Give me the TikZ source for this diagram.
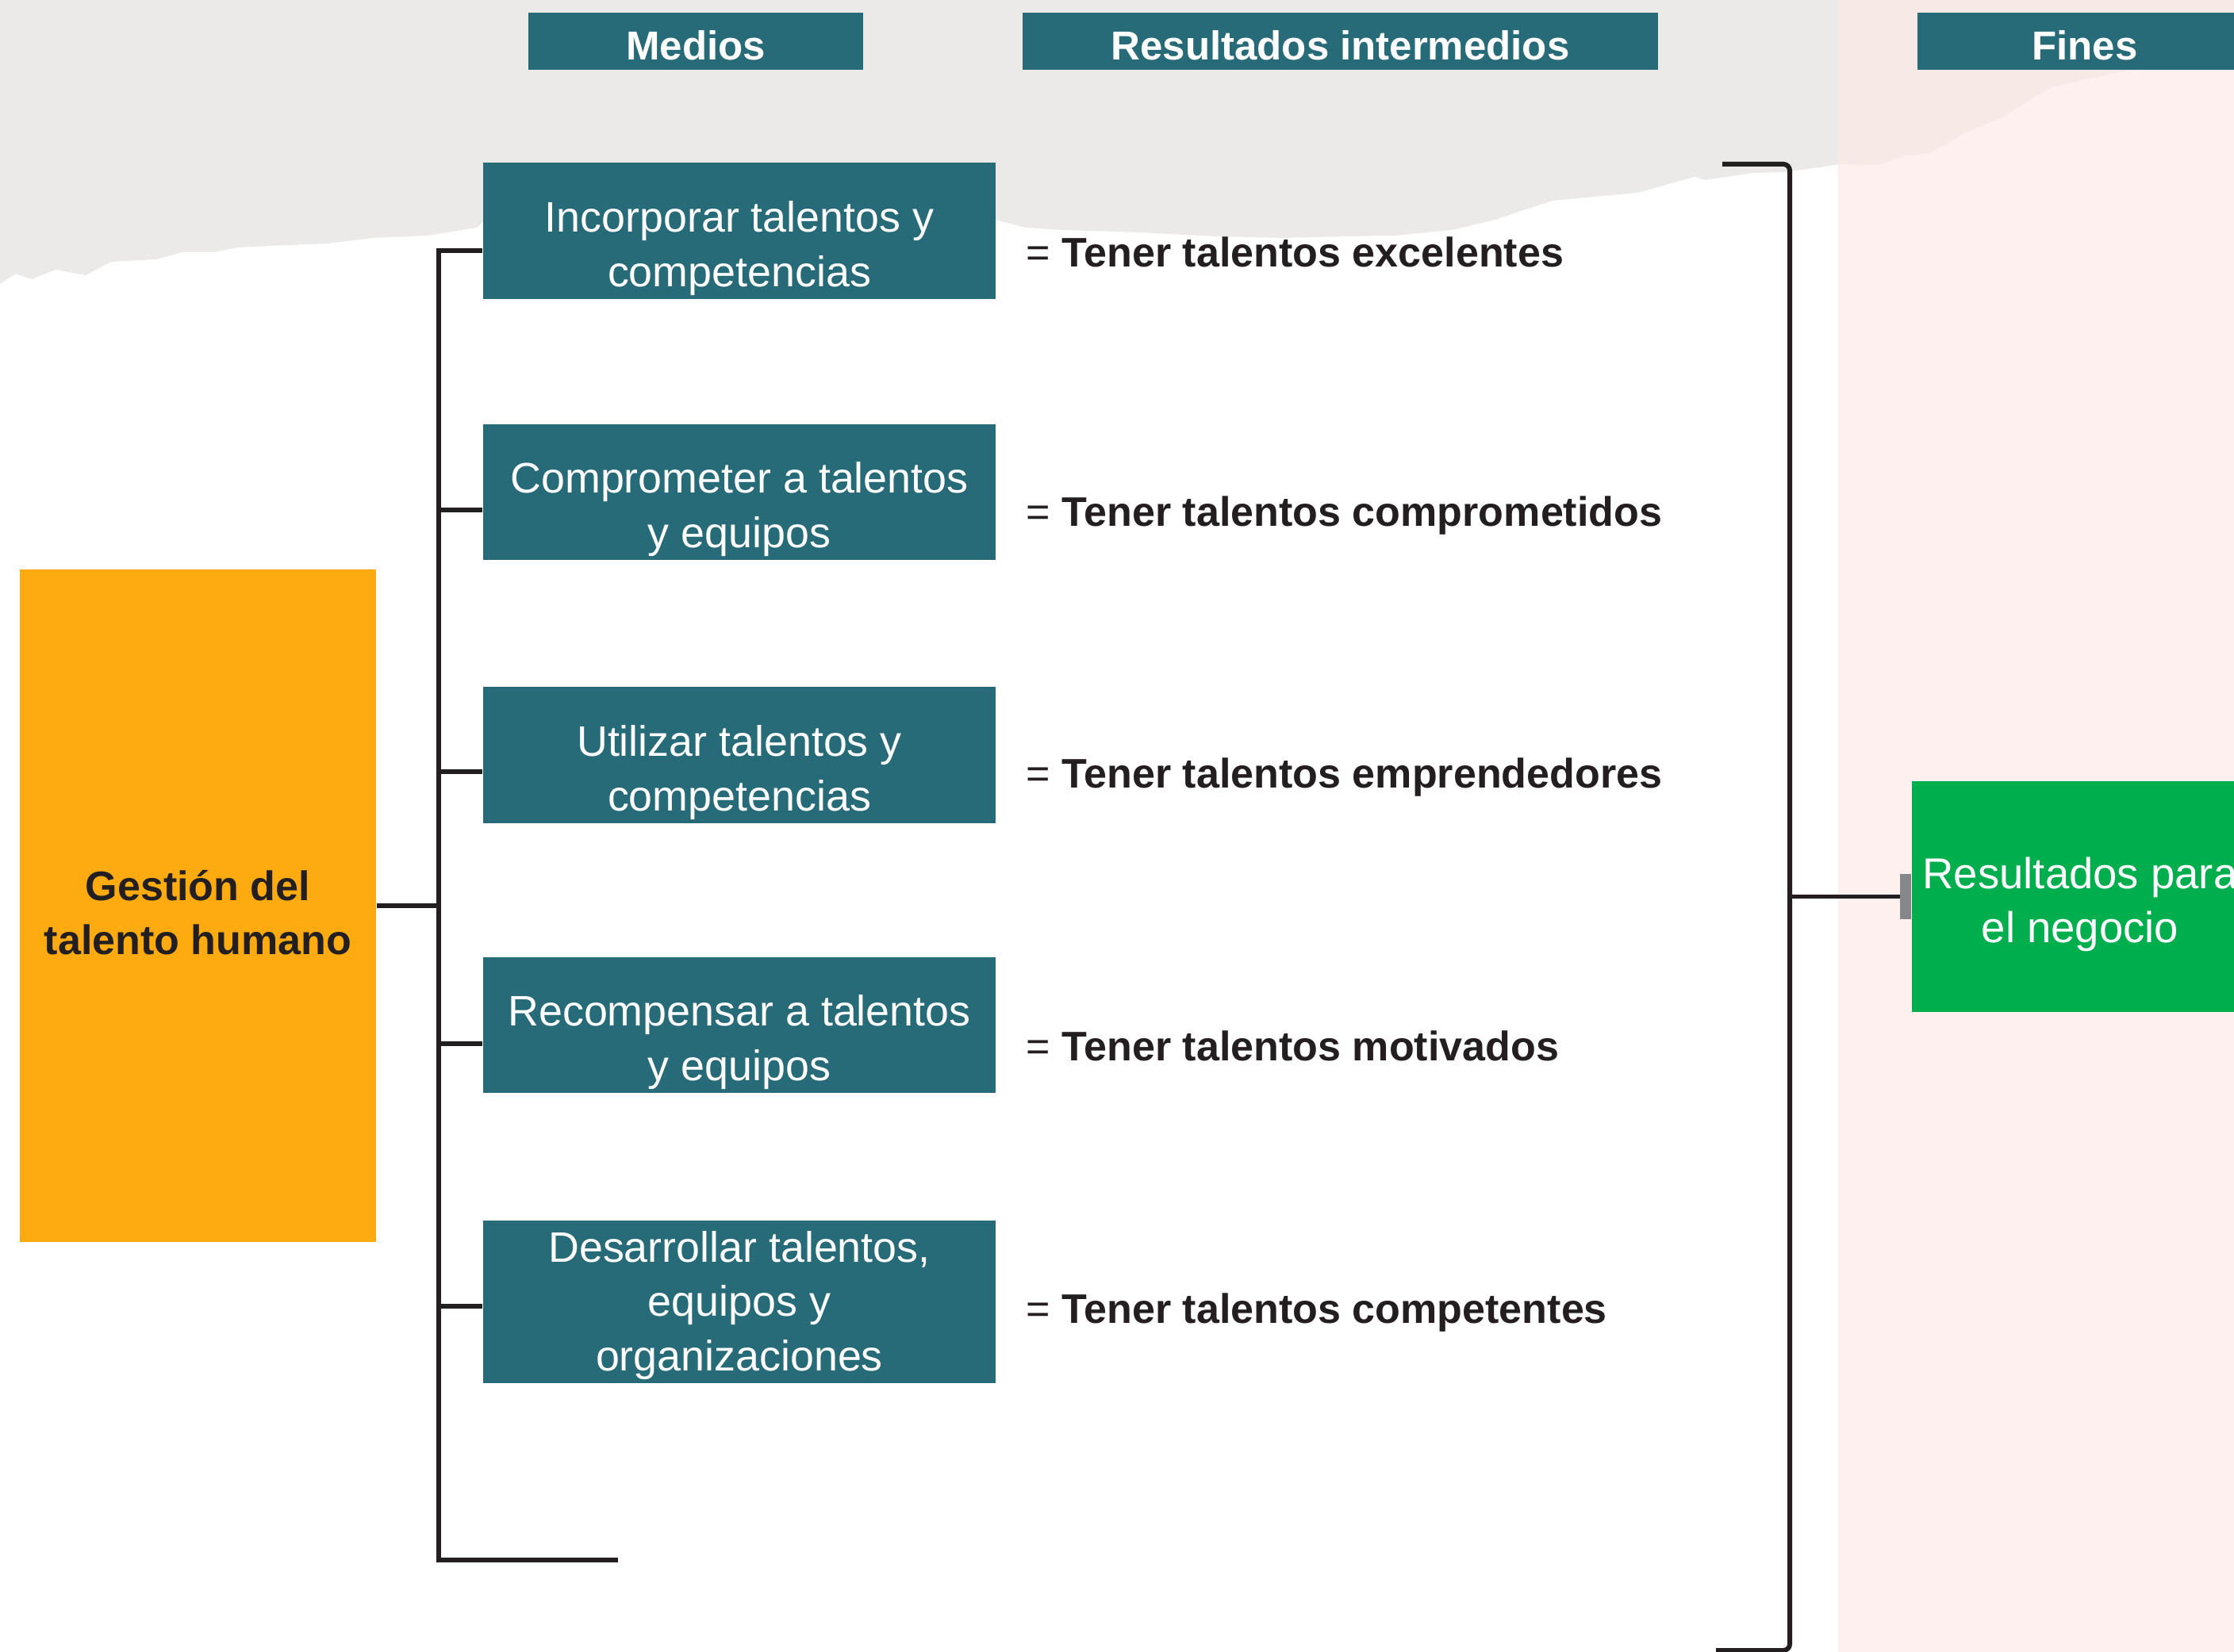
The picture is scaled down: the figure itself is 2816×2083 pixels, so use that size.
\documentclass[tikz,border=0pt]{standalone}
\usepackage{fontspec}
\setmainfont{Liberation Sans}
\usetikzlibrary{arrows.meta,positioning}
\definecolor{cteal}{HTML}{276A78}
\definecolor{corange}{HTML}{FDAB10}
\definecolor{cgreen}{HTML}{00AE4E}
\definecolor{band}{HTML}{ECEAE8}
\definecolor{blush}{HTML}{FDF0EE}
\definecolor{blushdark}{HTML}{F6E9E6}
\definecolor{ink}{HTML}{231F20}
\definecolor{tipgray}{HTML}{86878B}

\begin{document}
\begin{tikzpicture}[x=0.01cm,y=-0.01cm,
  hdr/.style={fill=cteal,text=white,inner sep=0pt,minimum height=0.72cm,
    text height=0.48cm,text depth=0pt,font=\fontsize{14.5}{17}\selectfont\bfseries},
  medio/.style={fill=cteal,inner sep=0pt,minimum width=6.46cm},
  mtext/.style={text=white,inner sep=0pt,align=center,text depth=0pt,
    font=\fontsize{15.3}{19.4}\selectfont},
  result/.style={anchor=base west,inner sep=0pt,text=ink,font=\fontsize{14.8}{18}\selectfont},
  wire/.style={draw=ink,line width=1.7pt}]
  \clip (0,0) rectangle (2816,2083);
  % background bands
  \fill[white] (0,0) rectangle (2816,2083);
  \fill[blush] (2317,0) rectangle (2816,2083);
  \fill[band] (0,0) -- (2317,0) -- (2317,207) -- (2300,210) -- (2250,217) -- (2210,218)
    -- (2150,227) -- (2136,223) -- (2100,233) -- (2065,243) -- (2010,248) -- (1957,253)
    -- (1920,265) -- (1885,277) -- (1830,290) -- (1759,297) -- (1700,298) -- (1616,300)
    -- (1530,298) -- (1436,293) -- (1340,290) -- (1293,287) -- (1255,277) -- (609,280)
    -- (601,287) -- (539,297) -- (470,300) -- (413,307) -- (340,310) -- (300,312)
    -- (269,318) -- (230,318) -- (197,327) -- (140,330) -- (108,347) -- (70,340)
    -- (40,352) -- (20,345) -- (0,358) -- cycle;
  \fill[blushdark] (2317,0) -- (2816,0) -- (2816,77) -- (2675,90) -- (2585,110)
    -- (2520,150) -- (2478,167) -- (2433,193) -- (2400,197) -- (2367,208) -- (2317,207) -- cycle;

  % headers
  \node[hdr,minimum width=4.22cm] (hmed) at (877,52) {Medios};
  \node[hdr,minimum width=8.01cm] (hres) at (1689.5,52) {Resultados intermedios};
  \node[hdr,minimum width=4.22cm] (hfin) at (2628,52) {Fines};

  % medios and resultados
  \foreach \i/\y/\s/\h/\t/\r in {
      1/291/316/1.72/{Incorporar talentos y\\competencias}/excelentes,
      2/620.5/643/1.71/{Comprometer a talentos\\y equipos}/comprometidos,
      3/952/973/1.72/{Utilizar talentos y\\competencias}/emprendedores,
      4/1292.5/1316/1.71/{Recompensar a talentos\\y equipos}/motivados,
      5/1641.5/1647/2.05/{Desarrollar talentos,\\equipos y\\organizaciones}/competentes}{
    \node[medio,minimum height=\h cm] (m\i) at (932,\y) {};
    \node[mtext,above=0.16cm of m\i.south] (t\i) {\t};
    \coordinate (s\i) at (553,\s);
    \node[result] (r\i) at (1293,{\s+21}) {= \textbf{Tener talentos \r}};
  }

  \node[fill=corange,text=ink,minimum width=4.49cm,minimum height=8.48cm,align=center,
    text height=1.24cm,font=\fontsize{14.8}{19.4}\selectfont\bfseries] (gth) at (249.5,1142)
    {Gestión del\\talento humano};
  \node[fill=cgreen,text=white,minimum width=4.24cm,minimum height=2.9cm,align=center,
    text height=1.27cm,font=\fontsize{15.5}{19.4}\selectfont] (fin) at (2622,1130.5)
    {Resultados para\\el negocio};

  % left tree
  \coordinate (lb) at (553,1967);
  \coordinate (le) at (779,1967);
  \draw[wire] (s1 -| m1.west) -- (s1) -- (lb) -- (le);
  \foreach \i in {2,...,5}
    \draw[wire] (s\i) -- (s\i -| m\i.west);
  \draw[wire] (gth.east) -- (gth.east -| s1);

  % right bracket
  \coordinate (bt) at (2171,207);
  \coordinate (brtop) at (2256,207);
  \coordinate (bb) at (2163,2081);
  \draw[wire,rounded corners=0.08cm] (bt) -- (brtop) -- (brtop |- bb) -- (bb);
  \draw[wire,-{Rectangle[length=4pt,width=16pt,color=tipgray]}] (fin.west -| brtop) -- (fin.west);
\end{tikzpicture}
\end{document}
